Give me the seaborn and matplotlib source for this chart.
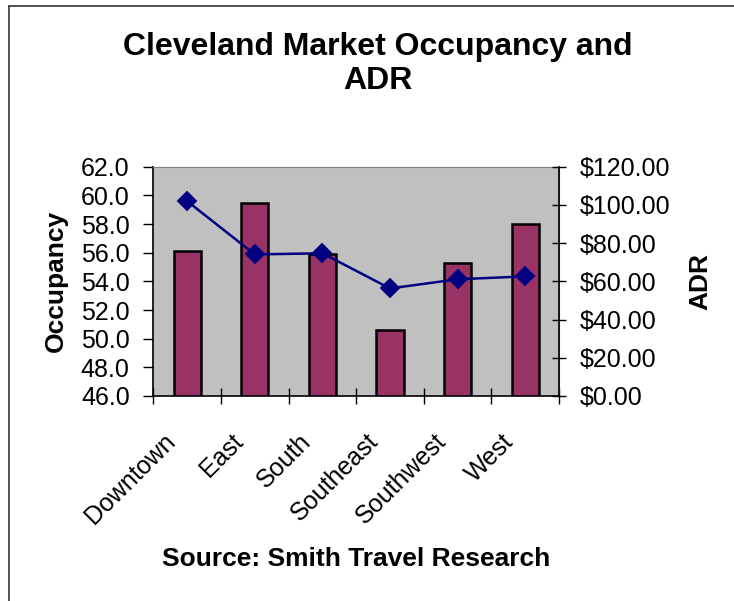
import matplotlib
matplotlib.use("Agg")
import matplotlib.pyplot as plt
import matplotlib.transforms as mtransforms
import seaborn as sns
from matplotlib.lines import Line2D
from matplotlib.ticker import FixedLocator, FuncFormatter

# Data
regions = ["Downtown", "East", "South", "Southeast", "Southwest", "West"]
occupancy = [56.1, 59.5, 55.9, 50.6, 55.3, 58.0]
adr = [102.0, 74.1, 74.7, 56.3, 61.1, 62.6]
occ_ticks = [46, 48, 50, 52, 54, 56, 58, 60, 62]
adr_ticks = [0, 20, 40, 60, 80, 100, 120]

sns.set_style("white")
plt.rcParams["font.family"] = ["Liberation Sans", "DejaVu Sans"]
plt.rcParams.update({"text.color": "black", "axes.labelcolor": "black",
                     "xtick.color": "black", "ytick.color": "black"})

fig = plt.figure(figsize=(7.34, 6.01), dpi=100)
ax = fig.add_axes([0.2089, 0.3411, 0.5527, 0.3815])
ax.set_facecolor("#C0C0C0")

sns.barplot(x=regions, y=occupancy, ax=ax, color="#993366", saturation=1,
            width=0.4, edgecolor="black", linewidth=1.8)

ax2 = ax.twinx()
sns.pointplot(x=regions, y=adr, ax=ax2, color="#000080", markers="D",
              errorbar=None, markersize=9, linewidth=1.8)

# axis ranges
ax.set_ylim(46, 62)
ax2.set_ylim(0, 120)
ax.set_xlim(-0.5, len(regions) - 0.5)

ax.yaxis.set_major_locator(FixedLocator(occ_ticks))
ax.yaxis.set_major_formatter(FuncFormatter(lambda v, p: f"{v:.1f}"))
ax2.yaxis.set_major_locator(FixedLocator(adr_ticks))
ax2.yaxis.set_major_formatter(FuncFormatter(lambda v, p: f"${v:.2f}"))

# category labels at centers, tick marks at boundaries (Excel style)
ax.set_xticks(range(len(regions)))
ax.set_xticklabels(regions, rotation=45, ha="right", rotation_mode="anchor",
                   fontsize=18)
ax.set_xticks([i - 0.5 for i in range(len(regions) + 1)], minor=True)
ax.tick_params(axis="x", which="major", length=0, pad=12)
ax.tick_params(axis="x", which="minor", length=12, width=1, direction="inout",
               bottom=True)
ax.tick_params(axis="y", length=7, width=1, direction="out",
               labelsize=18, left=True, pad=10)
ax2.tick_params(axis="y", length=10, width=1, direction="inout",
                labelsize=18, right=True, pad=10)

shift = mtransforms.ScaledTranslation(-17 / 72, -12 / 72, fig.dpi_scale_trans)
for lab in ax.get_xticklabels():
    lab.set_transform(lab.get_transform() + shift)

for s in ["left", "bottom"]:
    ax.spines[s].set_color("black")
    ax.spines[s].set_linewidth(1.2)
ax.spines["top"].set_color("#808080")
ax.spines["right"].set_color("#808080")
for s in ["left", "top", "bottom"]:
    ax2.spines[s].set_visible(False)
ax2.spines["right"].set_color("black")
ax2.spines["right"].set_linewidth(1.2)

ax.set_xlabel("Source: Smith Travel Research", fontsize=19, fontweight="bold")
ax.xaxis.set_label_coords(0.5, -0.66)
ax.set_ylabel("Occupancy", fontsize=19, fontweight="bold")
ax.yaxis.set_label_coords(-0.21, 0.5)
ax2.set_ylabel("ADR", fontsize=19, fontweight="bold", rotation=90)
ax2.yaxis.set_label_coords(1.318, 0.5)

fig.text(0.515, 1 - 64 / 601, "Cleveland Market Occupancy and\nADR",
         ha="center", va="center", fontsize=23, fontweight="bold",
         linespacing=1.2)

# outer chart frame (top and left edges visible)
fig.add_artist(Line2D([9 / 734, 1], [1 - 6 / 601, 1 - 6 / 601],
                      color="#333333", lw=1.2, transform=fig.transFigure))
fig.add_artist(Line2D([9 / 734, 9 / 734], [0, 1 - 6 / 601],
                      color="#333333", lw=1.2, transform=fig.transFigure))

fig.savefig("out.png", dpi=100)
